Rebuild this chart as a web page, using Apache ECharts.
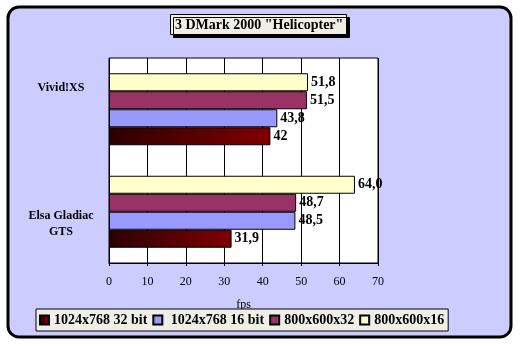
<!DOCTYPE html>
<html><head><meta charset="utf-8">
<script src="https://cdn.jsdelivr.net/npm/echarts@6/dist/echarts.min.js"></script>
<style>html,body{margin:0;padding:0;background:#fff}#c{width:520px;height:346px}</style>
</head><body><div id="c"></div>
<script>
const categories = ['Elsa Gladiac GTS', 'Vivid!XS'];
const seriesNames = ['1024x768 32 bit', '1024x768 16 bit', '800x600x32', '800x600x16'];
const s1024x32 = [31.9, 42];
const s1024x16 = [48.5, 43.8];
const s800x32 = [48.7, 51.5];
const s800x16 = [64.0, 51.8];
const labels1024x32 = ['31,9', '42'];
const labels1024x16 = ['48,5', '43,8'];
const labels800x32 = ['48,7', '51,5'];
const labels800x16 = ['64,0', '51,8'];
const xTicks = [0, 10, 20, 30, 40, 50, 60, 70];

const FONT = 'Liberation Serif';
const chart = echarts.init(document.getElementById('c'));
const colors = [
  new echarts.graphic.LinearGradient(0, 0, 1, 0, [{offset: 0, color: '#2a0000'}, {offset: 1, color: '#800000'}]),
  '#9999ff', '#993366', '#ffffcc'
];
const values = [s1024x32, s1024x16, s800x32, s800x16];
const labs = [labels1024x32, labels1024x16, labels800x32, labels800x16];

// series are drawn top-to-bottom within a group, so feed them in reverse
const order = [3, 2, 1, 0];

chart.setOption({
  animation: false,
  graphic: [{
    type: 'rect', z: -10, silent: true,
    shape: {x: 8, y: 7, width: 503, height: 330, r: 11},
    style: {fill: '#ccccff', stroke: '#000', lineWidth: 3}
  }],
  title: {
    text: '3 DMark 2000 "Helicopter"',
    left: 170, top: 14,
    padding: [4, 3, 3, 5],
    backgroundColor: '#efefe7',
    borderColor: '#000', borderWidth: 1,
    shadowColor: '#000', shadowOffsetX: 3, shadowOffsetY: 3, shadowBlur: 0,
    textStyle: {fontFamily: FONT, fontWeight: 'bold', fontSize: 14, color: '#000'}
  },
  legend: {
    data: seriesNames,
    left: 36, top: 309,
    padding: [4, 4, 4, 3],
    itemGap: 5, itemWidth: 9, itemHeight: 9, icon: 'rect',
    backgroundColor: '#efefe8', borderColor: '#000', borderWidth: 1,
    formatter: n => n === '1024x768 16 bit' ? ' ' + n : n,
    textStyle: {fontFamily: FONT, fontWeight: 'bold', fontSize: 14, color: '#000'}
  },
  grid: {left: 109, right: 142, top: 58, bottom: 83, show: true, backgroundColor: '#fff', borderColor: '#000', borderWidth: 1},
  xAxis: {
    type: 'value', min: xTicks[0], max: xTicks[xTicks.length - 1], interval: 10,
    name: 'fps', nameLocation: 'middle', nameGap: 36,
    nameTextStyle: {fontFamily: FONT, fontSize: 12, color: '#000'},
    axisLine: {show: true, lineStyle: {color: '#000', width: 1}},
    axisTick: {show: true, length: 3, lineStyle: {color: '#000'}},
    axisLabel: {fontFamily: FONT, fontSize: 12, color: '#000', margin: 13},
    splitLine: {show: true, lineStyle: {color: '#000', width: 1}}
  },
  yAxis: {
    type: 'category', data: categories,
    axisLine: {show: false}, axisTick: {show: false},
    axisLabel: {
      margin: 48, align: 'center',
      formatter: v => v === 'Vivid!XS' ? '{t|Vivid!XS}\n{sp2| }' : '{sp1| }\n{t|Elsa Gladiac}\n{t|GTS}',
      rich: {
        t: {fontFamily: FONT, fontWeight: 'bold', fontSize: 12, color: '#000', lineHeight: 16},
        sp1: {fontSize: 6, lineHeight: 24},
        sp2: {fontSize: 6, lineHeight: 42}
      }
    }
  },
  series: order.map(i => ({
    name: seriesNames[i], type: 'bar', data: values[i],
    barWidth: 18, barGap: '0%',
    itemStyle: {color: colors[i], borderColor: '#000', borderWidth: 1},
    label: {
      show: true, position: 'right', distance: 3,
      formatter: p => labs[i][p.dataIndex],
      fontFamily: FONT, fontWeight: 'bold', fontSize: 14, color: '#000'
    }
  }))
});
</script></body></html>
